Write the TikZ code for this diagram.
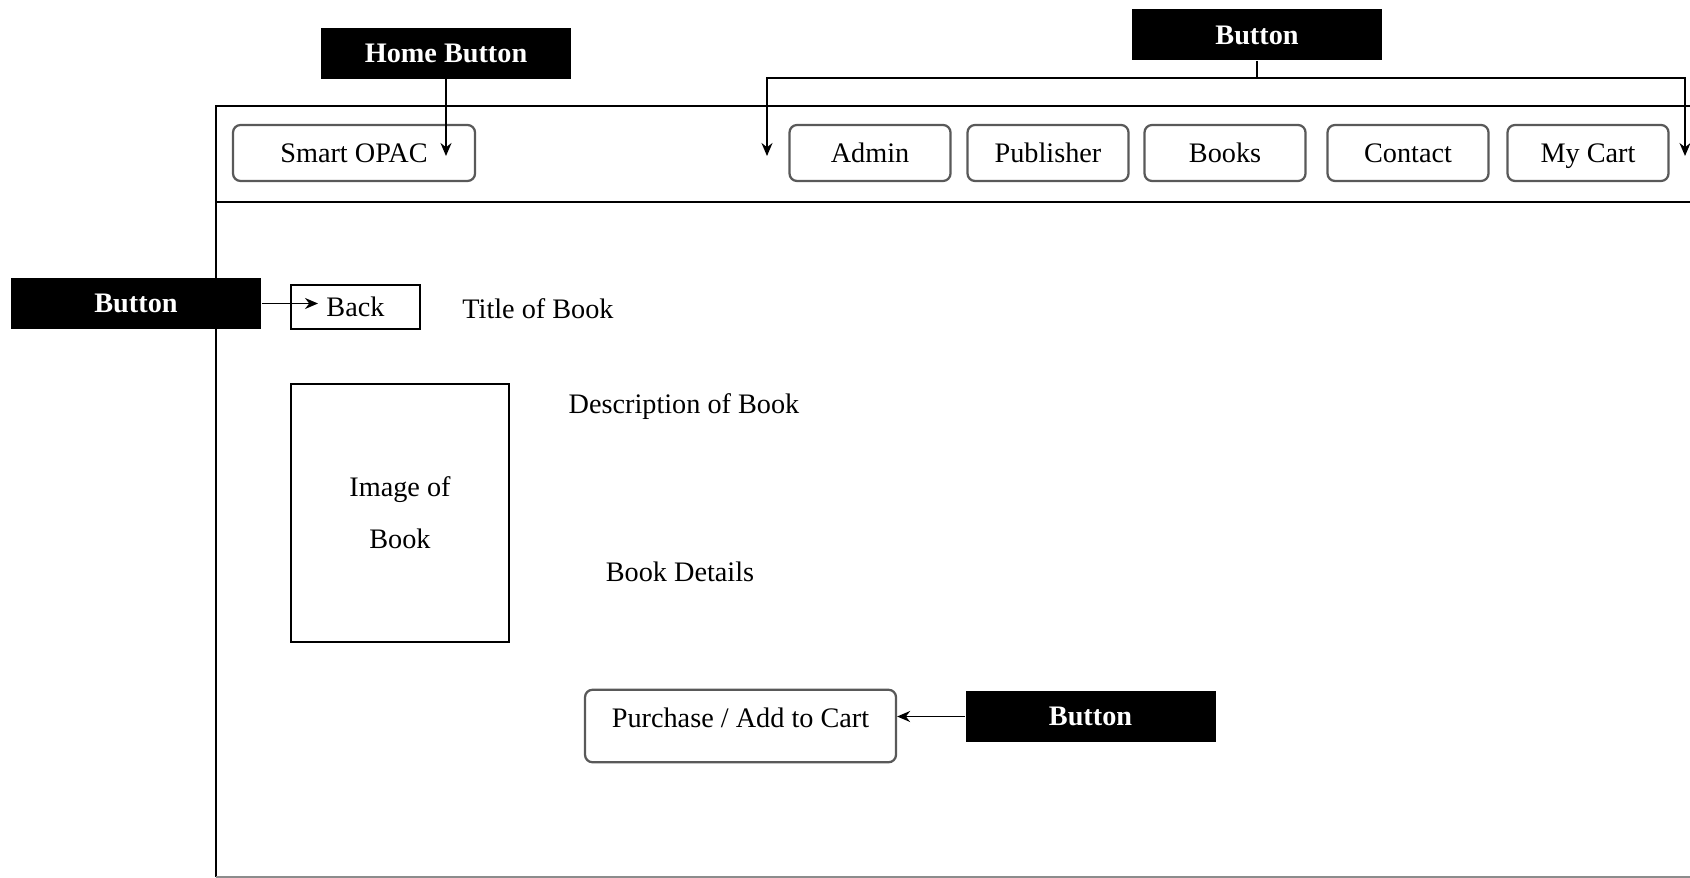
\documentclass[tikz,border=0pt]{standalone}
\usepackage{fontspec}
\setmainfont{Liberation Serif}
\usetikzlibrary{arrows.meta}
\begin{document}
\begin{tikzpicture}[x=0.4pt,y=-0.4pt,
    every node/.style={font=\fontsize{11.3}{13.6}\selectfont},
    navbtn/.style={draw=black!65,line width=0.9pt,rounded corners=3pt,minimum height=22.4pt,inner sep=0pt,text height=9pt,text depth=1.6pt},
    tag/.style={fill=black,text=white,font=\fontsize{11.3}{13.6}\selectfont\bfseries,minimum width=100pt,minimum height=20.4pt,inner sep=0pt},
    ptr/.style={-{Stealth[length=5.2pt,width=4.4pt]},line width=0.6pt}]
    \useasboundingbox (0,0) rectangle (1690,878);
    % page frame and header bar
    \draw [line width=0.8pt] (216,877) -- (216,106) -- (1690,106);
    \draw [line width=0.8pt] (216,202) -- (1690,202);
    \draw [line width=0.8pt,black!45] (216,877) -- (1690,877);
    % header buttons
    \node [navbtn,minimum width=96.8pt] (opac) at (354,153) {Smart OPAC};
    \node [navbtn,minimum width=64.4pt] (admin) at (870,153) {Admin};
    \node [navbtn,minimum width=64.4pt] (publisher) at (1048,153) {Publisher};
    \node [navbtn,minimum width=64.4pt] (books) at (1225,153) {Books};
    \node [navbtn,minimum width=64.4pt] (contact) at (1408,153) {Contact};
    \node [navbtn,minimum width=64.4pt] (cart) at (1588,153) {My Cart};
    % page content
    \node [draw,line width=0.8pt,minimum width=51.6pt,minimum height=17.6pt,inner sep=0pt] (back) at (355.5,307) {Back};
    \node (title) at (538,309) {Title of Book};
    \node [draw,line width=0.8pt,minimum width=87.2pt,minimum height=103.2pt,align=center] (image) at (400,513) {Image of\\[7.2pt]Book};
    \node (descr) at (684,407) {Description of Book};
    \node (details) at (680,572) {Book Details};
    \node [navbtn,minimum height=0pt,minimum width=124.4pt,text height=11pt,text depth=10pt,inner ysep=4pt] (purchase) at (740.5,726) {Purchase / Add to Cart};
    % callout labels
    \node [tag] (homebtn) at (446,53.5) {Home Button};
    \node [tag] (topbtn) at (1257,35) {Button};
    \node [tag] (backbtn) at (136,303.5) {Button};
    \node [tag] (buybtn) at (1090.5,716.5) {Button};
    \coordinate (hometip) at (446,156);
    \coordinate (bar) at (1257,78);
    \coordinate (navL) at (767,156);
    \coordinate (navR) at (1685,156);
    \coordinate (backtip) at (318,303.5);
    % callout arrows
    \draw [ptr] (homebtn) -- (hometip);
    \draw [line width=0.6pt] (topbtn) -- (bar);
    \draw [ptr] (bar) -| (navL);
    \draw [ptr] (bar) -| (navR);
    \draw [ptr] (backbtn) -- (backtip);
    \draw [ptr] (buybtn) -- (buybtn.west -| purchase.east);
\end{tikzpicture}
\end{document}
